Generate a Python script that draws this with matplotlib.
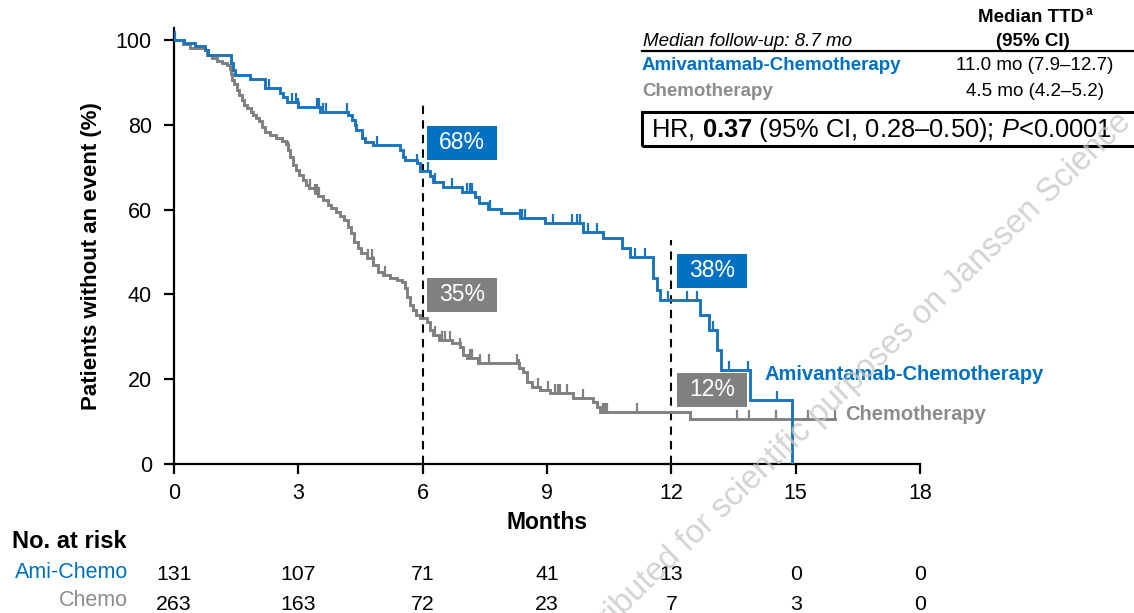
import numpy as np
import matplotlib
matplotlib.use("Agg")
import matplotlib.pyplot as plt
from matplotlib import transforms
from matplotlib.patches import Rectangle

plt.rcParams['font.family'] = ['Liberation Sans', 'DejaVu Sans']
plt.rcParams['mathtext.fontset'] = 'custom'
plt.rcParams['mathtext.rm'] = 'Liberation Sans'
plt.rcParams['mathtext.bf'] = 'Liberation Sans:bold'
plt.rcParams['mathtext.it'] = 'Liberation Sans:italic'

# ---------------- data ----------------
ami_t = [0, 0.25, 0.5, 0.75, 0.82, 1.37, 1.42, 1.48, 1.83, 2.2, 2.56, 2.63, 2.72, 3.0,
         3.52, 4.2, 4.3, 4.36, 4.4, 4.53, 4.6, 4.8, 5.45, 5.52, 5.57, 5.86, 5.93,
         6.18, 6.26, 6.5, 6.95, 7.26, 7.36, 7.58, 7.9, 8.35, 8.95, 9.87, 10.35, 10.8,
         11.0, 11.56, 11.65, 11.73, 12.7, 12.9, 13.1, 13.2, 13.9, 14.9]
ami_s = [100, 99.2, 98.6, 97.6, 96.5, 94.5, 93.0, 91.7, 90.8, 88.6, 87.4, 86.6, 85.4, 84.2,
         83.1, 82.3, 81.1, 80.0, 78.8, 76.9, 76.0, 75.2, 74.1, 72.4, 71.7, 71.0, 69.0,
         67.8, 66.6, 65.4, 64.2, 63.0, 61.5, 60.1, 59.2, 58.0, 56.8, 54.7, 53.3, 50.9,
         48.8, 43.9, 41.0, 38.7, 35.1, 31.6, 26.9, 22.2, 15.1, 0]
ami_end = 14.9
ami_cens = [0.03, 2.3, 2.85, 2.94, 3.0, 3.45, 3.5, 3.6, 3.67, 4.17, 4.9, 5.86, 6.13, 6.3,
            6.7, 7.07, 7.14, 7.19, 7.62, 8.35, 8.4, 8.47, 9.15, 9.6, 9.72, 9.8, 9.99,
            10.2, 11.12, 11.37, 11.92, 12.38, 12.62, 13.0, 13.4, 13.85, 14.55]

chemo_t = [0, 0.22, 0.39, 0.75, 0.8, 0.92, 1.04, 1.15, 1.28, 1.35, 1.38, 1.41, 1.45, 1.52,
           1.57, 1.64, 1.69, 1.76, 1.85, 1.9, 1.98, 2.05, 2.12, 2.2, 2.32, 2.45, 2.6, 2.7,
           2.75, 2.8, 2.86, 2.95, 3.02, 3.11, 3.18, 3.26, 3.4, 3.48, 3.6, 3.72, 3.8, 3.9,
           4.0, 4.1, 4.2, 4.28, 4.35, 4.43, 4.5, 4.65, 4.8, 4.92, 5.05, 5.2, 5.38, 5.5,
           5.57, 5.62, 5.7, 5.77, 5.84, 5.94, 6.1, 6.18, 6.25, 6.4, 6.7, 6.9, 6.97, 7.07,
           7.33, 8.33, 8.42, 8.52, 8.64, 8.83, 9.07, 9.63, 10.11, 10.2, 10.28, 12.45]
chemo_s = [100, 99.0, 98.1, 97.5, 96.5, 95.7, 95.1, 94.5, 94.0, 93.2, 92.0, 90.6, 89.5, 88.2,
           87.0, 85.8, 84.7, 84.0, 83.0, 82.3, 81.5, 80.8, 79.5, 78.3, 77.6, 76.9, 76.2, 75.5,
           74.1, 72.3, 70.5, 69.3, 68.2, 67.0, 65.8, 65.0, 64.0, 63.3, 62.3, 61.1, 60.4, 59.5,
           58.5, 57.5, 55.9, 54.5, 52.4, 50.9, 49.8, 48.6, 46.9, 45.3, 44.6, 43.9, 43.4, 42.9,
           41.5, 39.4, 37.5, 36.3, 35.1, 34.4, 33.5, 31.6, 30.4, 29.2, 28.5, 27.6, 25.7, 25.0,
           23.8, 22.6, 21.7, 19.3, 18.2, 17.5, 16.7, 15.6, 14.6, 13.4, 12.3, 10.6]
chemo_end = 15.95
chemo_cens = [2.75, 3.28, 3.4, 3.45, 3.5, 4.68, 4.78, 4.8, 5.09, 6.3, 6.47, 6.55, 6.66, 6.9,
              7.14, 7.19, 7.38, 7.6, 8.28, 8.33, 8.78, 9.02, 9.2, 9.27, 9.31, 9.48, 9.87,
              10.35, 10.4, 10.45, 11.17, 13.59, 13.88, 14.53, 15.3, 15.95]

landmarks = [6, 12]
ami_pct = ["68%", "38%"]
chemo_pct = ["35%", "12%"]

risk_months = [0, 3, 6, 9, 12, 15, 18]
risk_ami = [131, 107, 71, 41, 13, 0, 0]
risk_chemo = [263, 163, 72, 23, 7, 3, 0]

BLUE = '#0070C0'
BLUE_LINE = '#1B75BC'
GRAY = '#808080'
GRAY_TXT = '#8C8C8C'

# ---------------- figure ----------------
fig = plt.figure(figsize=(11.34, 6.13), dpi=100)
W, H = 1134, 613
def fx(px):
    return px / W
def fy(py):
    return 1 - py / H

ax = fig.add_axes([fx(174), fy(464), fx(920) - fx(174), fy(28) - fy(464)])
ax.set_xlim(0, 18)
ax.set_ylim(0, 102.8)


def step_value(times, surv, t):
    i = np.searchsorted(np.asarray(times), t, side='right') - 1
    return np.asarray(surv)[i]


def draw_curve(times, surv, end, cens, color):
    tt = list(times) + [end]
    ss = list(surv) + [surv[-1]]
    ax.step(tt, ss, where='post', color=color, lw=2.1, solid_joinstyle='miter', zorder=3)
    cy = [step_value(times, surv, c) for c in cens]
    ax.vlines(cens, cy, np.array(cy) + 2.1, color=color, lw=1.6, zorder=3)


draw_curve(chemo_t, chemo_s, chemo_end, chemo_cens, GRAY)
draw_curve(ami_t, ami_s, ami_end, ami_cens, BLUE_LINE)

# landmark dashed lines
ax.vlines(landmarks[0], 0, 84.7, colors='black', linestyles=(0, (4, 3)), lw=1.5, zorder=2)
ax.vlines(landmarks[1], 0, 52.8, colors='black', linestyles=(0, (4, 3)), lw=1.5, zorder=2)

# percentage boxes
boxes = [
    (6.105, 71.7, ami_pct[0], BLUE),
    (6.105, 35.8, chemo_pct[0], GRAY),
    (12.14, 41.5, ami_pct[1], BLUE),
    (12.14, 13.4, chemo_pct[1], GRAY),
]
bw, bh = 1.68, 8.1
for x0, y0, lab, col in boxes:
    ax.add_patch(Rectangle((x0, y0), bw, bh, facecolor=col, edgecolor='none', zorder=4))
    ax.text(x0 + bw / 2, y0 + bh / 2, lab, color='white', fontsize=16.5,
            ha='center', va='center', zorder=5)

# curve labels
ax.text(14.26, 21.0, 'Amivantamab-Chemotherapy', color=BLUE, fontsize=14.5,
        fontweight='bold', ha='left', va='center')
ax.text(16.2, 11.6, 'Chemotherapy', color=GRAY_TXT, fontsize=14.5,
        fontweight='bold', ha='left', va='center')

# axes styling
ax.spines['top'].set_visible(False)
ax.spines['right'].set_visible(False)
ax.spines['left'].set_linewidth(1.6)
ax.spines['bottom'].set_linewidth(1.6)
ax.set_xticks(risk_months)
ax.set_yticks([0, 20, 40, 60, 80, 100])
ax.tick_params(axis='both', direction='out', length=7, width=1.6, labelsize=15.5)
ax.tick_params(axis='y', pad=9)
ax.tick_params(axis='x', pad=7)
ax.set_xlabel('Months', fontsize=16.5, fontweight='bold', labelpad=5)
ax.set_ylabel('Patients without an event (%)', fontsize=16, fontweight='bold')
ax.yaxis.set_label_coords(-0.097, 0.478)

# top-right table
fig.text(fx(1031), fy(18), 'Median TTD', fontsize=13.5, fontweight='bold', ha='center', va='center')
fig.text(fx(1086), fy(12), 'a', fontsize=8.5, fontweight='bold', ha='left', va='center')
fig.text(fx(1033), fy(41), '(95% CI)', fontsize=13.5, fontweight='bold', ha='center', va='center')
fig.text(fx(643), fy(41), 'Median follow-up: 8.7 mo', fontsize=13.5, style='italic',
         ha='left', va='center')
fig.add_artist(plt.Line2D([fx(642), fx(1134)], [fy(50.5), fy(50.5)], color='black', lw=1.6))
fig.text(fx(642), fy(65), 'Amivantamab-Chemotherapy', fontsize=13.5, fontweight='bold',
         color=BLUE, ha='left', va='center')
fig.text(fx(1035), fy(65), '11.0 mo (7.9–12.7)', fontsize=13.5, ha='center', va='center')
fig.text(fx(642), fy(91), 'Chemotherapy', fontsize=13.5, fontweight='bold',
         color=GRAY_TXT, ha='left', va='center')
fig.text(fx(1035), fy(91), '4.5 mo (4.2–5.2)', fontsize=13.5, ha='center', va='center')
fig.add_artist(Rectangle((fx(641.5), fy(146)), fx(1150) - fx(641.5), fy(112) - fy(146),
                         transform=fig.transFigure, facecolor='none', edgecolor='black', lw=2.2))
fig.text(fx(651), fy(130), r'HR, $\mathbf{0.37}$ (95% CI, 0.28–0.50); $\mathit{P}$<0.0001',
         fontsize=18.4, ha='left', va='center')

# risk table
trans = transforms.blended_transform_factory(ax.transData, fig.transFigure)
fig.text(fx(12), fy(541), 'No. at risk', fontsize=17, fontweight='bold', ha='left', va='center')
fig.text(fx(128), fy(573), 'Ami-Chemo', fontsize=15.5, color=BLUE, ha='right', va='center')
fig.text(fx(128), fy(600), 'Chemo', fontsize=15.5, color=GRAY_TXT, ha='right', va='center')
for m, a, c in zip(risk_months, risk_ami, risk_chemo):
    fig.text(m, fy(574), str(a), fontsize=15.3, ha='center', va='center', transform=trans)
    fig.text(m, fy(605), str(c), fontsize=15.3, ha='center', va='center', transform=trans)

# watermark
fig.text(fx(1132), fy(124), 'Content distributed for scientific purposes on Janssen Science',
         fontsize=23.5, color='#C8C8C8', alpha=0.8, rotation=44, rotation_mode='anchor',
         ha='right', va='baseline', zorder=10)

fig.savefig('out.png', dpi=100)
